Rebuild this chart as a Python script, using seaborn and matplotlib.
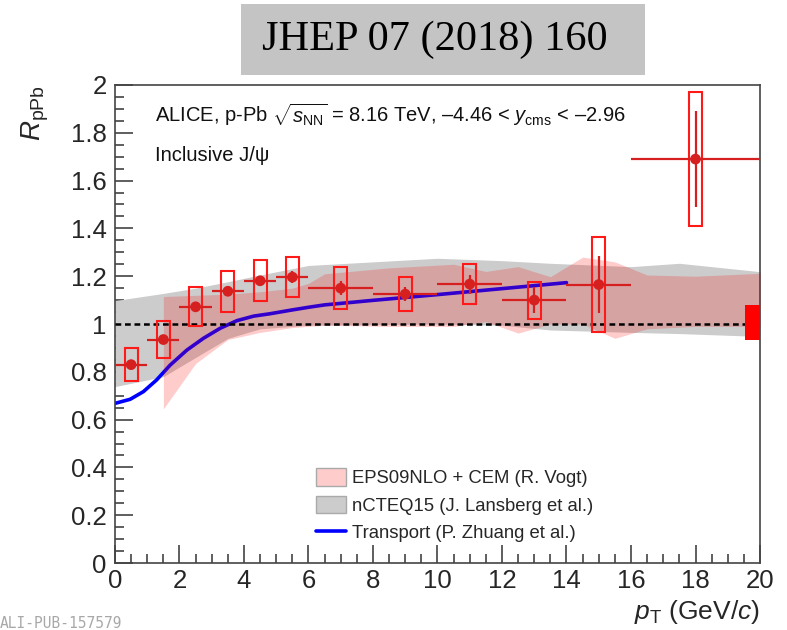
import numpy as np
import pandas as pd
import matplotlib
matplotlib.use("Agg")
import matplotlib.pyplot as plt
import seaborn as sns
from matplotlib.patches import Rectangle, Patch
from matplotlib.lines import Line2D
from matplotlib.ticker import MultipleLocator, FormatStrFormatter

# ALICE inclusive J/psi R_pPb at backward rapidity, p-Pb 8.16 TeV
pt = [0.5, 1.5, 2.5, 3.5, 4.5, 5.5, 7.0, 9.0, 11.0, 13.0, 15.0, 18.0]
pt_halfwidth = [0.5, 0.5, 0.5, 0.5, 0.5, 0.5, 1.0, 1.0, 1.0, 1.0, 1.0, 2.0]
r_ppb = [0.83, 0.935, 1.072, 1.137, 1.181, 1.196, 1.15, 1.125, 1.167, 1.10, 1.165, 1.69]
stat_err = [0.02, 0.02, 0.02, 0.02, 0.02, 0.025, 0.03, 0.03, 0.04, 0.055, 0.12, 0.2]
syst_err = [0.069, 0.077, 0.082, 0.085, 0.085, 0.083, 0.087, 0.072, 0.083, 0.077, 0.198, 0.279]
global_unc_lo = 0.935
global_unc_hi = 1.08

# EPS09NLO + CEM (R. Vogt)
eps_pt = [1.5, 2.5, 3.5, 4.5, 5.5, 6.0, 6.5, 8.5, 10.5, 11.5, 12.5, 13.5, 14.5, 15.5, 16.5, 18.0, 20.0]
eps_lo = [0.645, 0.835, 0.935, 0.965, 0.985, 0.99, 0.995, 0.99, 0.99, 1.01, 0.962, 1.0, 1.0, 0.94, 0.98, 0.99, 0.99]
eps_hi = [1.115, 1.12, 1.125, 1.135, 1.15, 1.17, 1.21, 1.235, 1.25, 1.22, 1.24, 1.198, 1.28, 1.26, 1.205, 1.2, 1.212]

# nCTEQ15 (J. Lansberg et al.)
ncteq_pt = [0.0, 1.5, 2.5, 3.5, 4.5, 6.0, 10.0, 12.0, 13.5, 16.0, 17.5, 20.0]
ncteq_lo = [0.738, 0.78, 0.86, 0.94, 0.98, 0.995, 1.0, 0.995, 0.975, 0.965, 0.96, 0.948]
ncteq_hi = [1.098, 1.128, 1.15, 1.177, 1.205, 1.245, 1.275, 1.265, 1.254, 1.24, 1.254, 1.219]

# Transport model (P. Zhuang et al.)
tr_pt = [0.0, 0.47, 0.88, 1.29, 1.71, 2.23, 2.74, 3.26, 3.78, 4.3, 4.81, 5.5, 6.0, 6.5, 8.0, 10.0, 12.0, 14.0]
tr_r = [0.668, 0.685, 0.717, 0.766, 0.828, 0.891, 0.94, 0.982, 1.014, 1.033, 1.043, 1.059, 1.07, 1.08, 1.099, 1.123, 1.148, 1.173]

legend_labels = ["EPS09NLO + CEM (R. Vogt)", "nCTEQ15 (J. Lansberg et al.)", "Transport (P. Zhuang et al.)"]

sns.set_theme(style="ticks")
plt.rcParams["font.family"] = ["Liberation Sans", "DejaVu Sans"]
plt.rcParams["mathtext.fontset"] = "custom"
plt.rcParams["mathtext.rm"] = "Liberation Sans"
plt.rcParams["mathtext.it"] = "Liberation Sans:italic"
plt.rcParams["mathtext.bf"] = "Liberation Sans:bold"

fig = plt.figure(figsize=(7.87, 6.30), dpi=100)
ax = fig.add_axes([0.1461, 0.1063, 0.8196, 0.7588])

data = pd.DataFrame({"pt": pt, "r": r_ppb, "hw": pt_halfwidth,
                     "stat": stat_err, "syst": syst_err})

pink = (1.0, 0.0, 0.0, 0.2)
gray = "#cccccc"
red_pt = "#d62020"
red_box = "#ff1a1a"

# model bands and curve
ax.fill_between(ncteq_pt, ncteq_lo, ncteq_hi, color=gray, lw=0, zorder=1)
sns.lineplot(x=tr_pt, y=tr_r, color="blue", lw=2.6, ax=ax, zorder=2, sort=False)
ax.fill_between(eps_pt, eps_lo, eps_hi, color=pink, lw=0, zorder=3)

# unity reference
ax.axhline(1.0, color="black", ls=(0, (2.3, 1.5)), lw=1.8, zorder=4)

# systematic boxes
for x, y, s in zip(data["pt"], data["r"], data["syst"]):
    ax.add_patch(Rectangle((x - 0.2, y - s), 0.4, 2 * s, fill=False,
                           edgecolor=red_box, lw=1.5, zorder=5))

# global uncertainty
ax.add_patch(Rectangle((19.55, global_unc_lo), 0.5, global_unc_hi - global_unc_lo,
                       facecolor="red", edgecolor="none", zorder=5, clip_on=True))

# data points with statistical errors and bin widths
ax.errorbar(data["pt"], data["r"], xerr=data["hw"], yerr=data["stat"], fmt="none",
            ecolor=red_pt, elinewidth=1.6, capsize=0, zorder=6)
sns.scatterplot(data=data, x="pt", y="r", color=red_pt, s=60, edgecolor="none",
                ax=ax, zorder=7)

ax.set_xlim(0, 20)
ax.set_ylim(0, 2)
ax.set_xlabel("")
ax.set_ylabel("")
ax.xaxis.set_major_locator(MultipleLocator(2))
ax.xaxis.set_minor_locator(MultipleLocator(0.5))
ax.yaxis.set_major_locator(MultipleLocator(0.2))
ax.yaxis.set_minor_locator(MultipleLocator(0.05))
ax.yaxis.set_major_formatter(FormatStrFormatter("%g"))
ax.xaxis.set_major_formatter(FormatStrFormatter("%g"))
ax.tick_params(which="major", direction="in", length=13, width=1.1, color="#333333",
               labelsize=18.5, top=False, right=False)
ax.tick_params(which="minor", direction="in", length=6.5, width=1.1, color="#333333",
               top=False, right=False)
ax.tick_params(axis="y", pad=6)
ax.tick_params(axis="x", pad=4)
for side in ["left", "bottom", "right", "top"]:
    ax.spines[side].set_visible(True)
    ax.spines[side].set_color("#444444")
    ax.spines[side].set_linewidth(1.2)

# annotations
header = ("ALICE, p-Pb $\\sqrt{s_{\\mathrm{NN}}}$ = 8.16 TeV, "
          "\u20134.46 < $y_{\\mathrm{cms}}$ < \u20132.96")
ax.text(1.24, 1.875, header, fontsize=14.5, ha="left", va="center", color="#111111")
ax.text(1.24, 1.705, "Inclusive J/\u03c8", fontsize=14.5, ha="left", va="center", color="#111111")

# legend
handles = [Patch(facecolor=(1, 0.8, 0.8), edgecolor="#aaaaaa", lw=1.0),
           Patch(facecolor=gray, edgecolor="#aaaaaa", lw=1.0),
           Line2D([], [], color="blue", lw=2.6)]
ax.legend(handles, legend_labels, loc="upper left", bbox_to_anchor=(0.402, 0.257),
          bbox_transform=fig.transFigure, frameon=False, fontsize=13.3,
          handlelength=1.6, handleheight=1.1, handletextpad=0.35,
          labelspacing=0.45, borderpad=0, borderaxespad=0)

# axis titles
fig.text(0.045, 0.865, r"$R_{\mathrm{pPb}}$", fontsize=20, rotation=90, ha="center", va="top")
fig.text(0.966, 0.028, r"$p_{\mathrm{T}}$ (GeV/$c$)", fontsize=19, ha="right", va="center")

# journal reference banner
fig.patches.append(Rectangle((0.306, 0.881), 0.513, 0.1127, transform=fig.transFigure,
                             facecolor="#c4c4c4", edgecolor="none", zorder=0))
fig.text(0.552, 0.937, "JHEP 07 (2018) 160", fontsize=30.5, family=["Liberation Serif"],
         ha="center", va="center", color="black")

fig.text(0.0, 0.011, "ALI-PUB-157579", fontsize=10.5, family=["DejaVu Sans Mono"],
         color="#a8a8a8", ha="left", va="center")

fig.savefig("out.png", dpi=100)
